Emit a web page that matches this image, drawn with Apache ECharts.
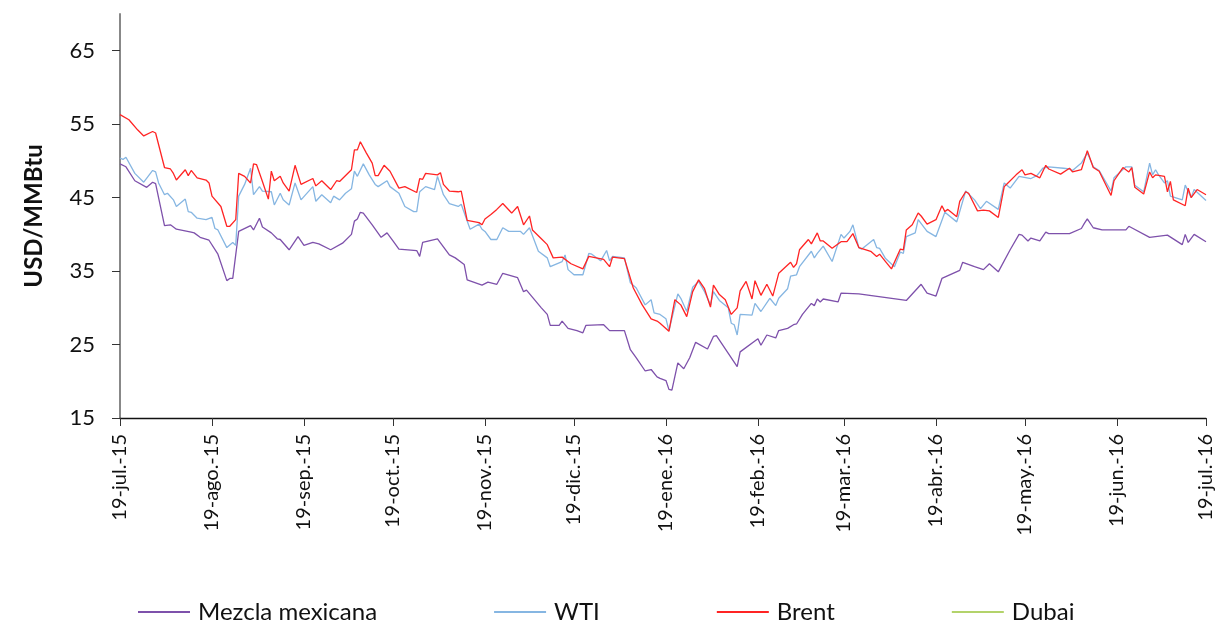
<!DOCTYPE html>
<html lang="es">
<head>
<meta charset="UTF-8">
<title>Precios del crudo</title>
<script src="https://cdn.jsdelivr.net/npm/echarts@6/dist/echarts.min.js"></script>
<style>
  html, body { margin: 0; padding: 0; background: #fff; }
  #chart { width: 1220px; height: 621px; }
</style>
</head>
<body>
<div id="chart"></div>
<script>
// x = dias desde 19-jul-2015, y = USD/MMBtu
var tickDays = [0, 31, 62, 92, 123, 153, 184, 215, 244, 275, 305, 336, 366];
var tickLabels = ['19-jul.-15', '19-ago.-15', '19-sep.-15', '19-oct.-15', '19-nov.-15', '19-dic.-15',
  '19-ene.-16', '19-feb.-16', '19-mar.-16', '19-abr.-16', '19-may.-16', '19-jun.-16', '19-jul.-16'];
var yTicks = [15, 25, 35, 45, 55, 65];
var seriesNames = ['Mezcla mexicana', 'WTI', 'Brent', 'Dubai'];

var mezcla = [[0,49.6],[2,49.2],[5,47.3],[9,46.4],[11,47.1],[12,46.9],[15,41.2],[17,41.3],[19,40.7],[24,40.3],
  [25,40.2],[27,39.6],[30,39.2],[33,37.3],[36,33.7],[37,34.0],[38,34.0],[40,40.4],[44,41.2],[45,40.6],[47,42.2],
  [48,41.0],[51,40.2],[53,39.4],[54,39.3],[57,37.9],[60,39.7],[62,38.5],[65,38.9],[67,38.7],[71,37.9],[75,38.8],
  [78,40.0],[79,41.8],[80,42.1],[81,43.0],[82,42.9],[85,41.3],[88,39.6],[90,40.2],[92,39.1],[94,38.0],[100,37.8],
  [101,37.0],[102,38.9],[107,39.4],[111,37.2],[113,36.8],[116,35.9],[117,33.8],[122,33.1],[124,33.5],[127,33.2],
  [129,34.7],[134,34.1],[136,32.2],[137,32.4],[142,30.0],[144,29.1],[145,27.6],[148,27.6],[149,28.2],[151,27.2],
  [154,26.9],[156,26.6],[157,27.6],[163,27.7],[165,26.9],[170,26.9],[172,24.3],[174,23.2],[177,21.4],[179,21.6],
  [181,20.6],[182,20.4],[184,20.1],[185,18.9],[186,18.8],[188,22.5],[190,21.7],[192,23.2],[194,25.3],[198,24.4],
  [200,26.1],[201,26.2],[208,22.0],[209,24.0],[215,25.8],[216,24.9],[218,26.3],[221,25.9],[222,26.9],[225,27.2],
  [227,27.7],[228,27.8],[230,29.1],[233,30.6],[234,30.3],[235,31.2],[236,30.8],[237,31.2],[242,30.8],[243,32.0],
  [249,31.9],[265,31.0],[270,33.2],[272,32.0],[275,31.6],[277,34.0],[283,35.1],[284,36.2],[288,35.6],[291,35.2],
  [293,36.0],[296,34.9],[300,37.9],[303,40.0],[304,39.9],[306,39.1],[307,39.5],[310,39.1],[312,40.3],[313,40.1],
  [318,40.1],[320,40.1],[324,40.8],[325,41.5],[326,42.1],[328,40.9],[331,40.6],[339,40.6],[340,41.1],[347,39.6],
  [353,39.9],[358,38.6],[359,40.0],[360,38.9],[362,40.0],[366,39.0]];

var wti = [[0,50.4],[1,50.2],[2,50.5],[5,48.3],[8,47.1],[11,48.7],[12,48.5],[13,47.0],[15,45.4],[16,45.6],
  [18,44.7],[19,43.8],[22,44.8],[23,43.1],[24,43.0],[26,42.2],[29,42.0],[31,42.3],[32,40.8],[33,40.6],[36,38.2],
  [38,38.9],[39,38.5],[40,45.2],[42,46.8],[44,49.0],[45,45.4],[47,46.5],[48,45.9],[51,45.8],[52,44.0],[54,45.6],
  [55,44.7],[57,44.0],[59,47.0],[61,44.7],[65,46.5],[66,44.5],[68,45.4],[71,44.3],[72,45.2],[74,44.7],[76,45.6],
  [78,46.2],[79,48.6],[80,47.9],[82,49.6],[84,48.1],[86,46.8],[87,46.5],[90,47.3],[91,46.5],[94,45.6],[96,43.8],
  [99,43.1],[100,43.1],[101,45.8],[103,46.5],[106,46.1],[107,47.9],[109,45.4],[111,44.2],[114,43.8],[115,44.1],
  [118,40.7],[121,41.4],[122,40.7],[123,40.4],[125,39.3],[127,39.3],[129,40.9],[131,40.4],[135,40.4],[136,40.0],
  [138,40.9],[141,37.7],[144,36.8],[145,35.6],[149,36.3],[150,37.2],[151,35.2],[153,34.5],[156,34.5],[158,37.4],
  [159,37.3],[162,36.4],[164,37.8],[165,36.4],[166,37.0],[170,36.8],[172,33.4],[174,32.7],[177,30.4],[179,31.1],
  [180,29.3],[182,29.1],[184,28.5],[185,26.9],[188,31.9],[189,31.3],[191,29.5],[193,32.8],[195,33.6],[197,32.2],
  [199,30.4],[200,32.2],[202,31.0],[205,30.0],[206,27.9],[207,27.7],[208,26.3],[209,29.1],[213,29.0],[214,30.6],
  [216,29.5],[219,31.3],[221,30.3],[222,31.3],[225,32.6],[226,34.3],[228,34.5],[229,35.6],[233,37.7],[234,36.8],
  [235,37.4],[237,38.4],[240,36.3],[243,40.0],[244,39.5],[246,40.4],[247,41.3],[249,38.2],[250,38.0],[254,39.3],
  [255,38.2],[256,38.1],[258,36.7],[261,35.6],[263,37.6],[264,37.4],[265,39.7],[268,40.2],[269,42.0],[272,40.4],
  [275,39.7],[278,43.0],[282,41.7],[285,45.9],[288,44.7],[290,43.5],[292,44.5],[296,43.4],[298,47.0],[300,46.3],
  [303,47.9],[307,47.6],[309,48.0],[311,49.0],[313,49.2],[318,49.0],[320,48.9],[321,48.7],[324,49.7],[326,51.1],
  [328,49.2],[330,48.7],[334,45.9],[335,47.7],[339,49.2],[341,49.2],[342,46.7],[345,45.8],[347,49.7],[348,48.1],
  [349,48.8],[350,48.1],[352,47.0],[353,47.3],[354,45.2],[358,44.7],[359,46.7],[361,45.0],[362,46.1],[366,44.6]];

var brent = [[0,56.3],[3,55.6],[6,54.2],[8,53.4],[11,54.0],[12,53.8],[15,49.1],[17,48.9],[18,48.3],[19,47.4],
  [22,48.8],[23,48.0],[24,48.7],[26,47.7],[29,47.4],[30,47.0],[31,45.2],[34,43.8],[36,41.1],[37,41.1],[39,42.0],
  [40,48.3],[42,47.9],[44,47.0],[45,49.6],[46,49.5],[48,47.2],[50,44.8],[51,48.6],[52,47.3],[54,47.9],[55,47.0],
  [57,45.9],[59,49.4],[61,46.8],[65,47.6],[66,46.6],[68,47.3],[71,46.1],[73,47.3],[74,47.2],[78,48.8],[79,51.5],
  [80,51.5],[81,52.6],[83,51.1],[85,49.7],[86,48.0],[87,48.0],[89,49.4],[91,48.6],[94,46.3],[96,46.5],[100,45.7],
  [101,47.6],[102,47.5],[103,48.3],[107,48.1],[108,48.4],[109,46.8],[111,45.9],[114,45.8],[115,45.9],[117,41.9],
  [121,41.6],[122,41.3],[123,42.1],[125,42.7],[127,43.4],[129,44.2],[132,42.9],[134,43.8],[136,41.3],[138,42.5],
  [139,40.6],[142,39.4],[144,38.6],[146,36.8],[149,36.9],[152,36.0],[156,35.3],[158,37.0],[163,36.6],[165,35.6],
  [166,36.9],[170,36.7],[173,32.7],[176,30.4],[179,28.5],[181,28.2],[182,27.9],[185,26.8],[187,31.1],[189,30.4],
  [191,28.8],[193,32.2],[195,33.8],[197,32.6],[199,30.1],[200,33.1],[202,31.8],[204,31.1],[206,29.1],[208,30.0],
  [209,32.3],[211,33.6],[213,31.2],[214,33.7],[216,31.7],[218,33.2],[220,31.6],[222,34.7],[226,36.2],[227,35.5],
  [228,36.0],[229,37.9],[232,39.3],[233,38.7],[235,40.2],[236,39.1],[237,39.1],[240,38.1],[243,39.0],[245,39.0],
  [247,40.1],[249,38.2],[253,37.7],[255,37.0],[256,37.3],[258,36.3],[260,35.3],[263,38.0],[264,37.9],[265,40.6],
  [267,41.3],[269,42.9],[270,42.5],[272,41.4],[275,42.0],[277,43.9],[278,43.1],[279,43.4],[282,42.4],[283,44.5],
  [285,45.8],[286,45.6],[289,43.2],[291,43.3],[293,43.2],[296,42.3],[298,46.5],[299,46.9],[302,48.1],[304,48.8],
  [305,48.1],[307,48.3],[310,47.7],[312,49.4],[313,48.9],[317,48.2],[320,49.0],[321,48.5],[324,48.8],[326,51.4],
  [328,49.1],[330,48.6],[334,45.3],[335,47.3],[338,49.1],[340,48.5],[341,49.1],[342,46.4],[345,45.5],[347,48.5],
  [348,47.7],[349,48.1],[352,47.9],[353,45.8],[354,47.2],[355,44.7],[359,43.9],[360,46.3],[361,45.0],[363,46.1],
  [366,45.4]];

var dubai = [];

var colors = ['#7e51ab', '#86b6e2', '#ff2424', '#b3d36b'];
var font = 'Lato, "Open Sans", sans-serif';

var myChart = echarts.init(document.getElementById('chart'));

function lineSeries(name, data, i) {
  return {
    name: name,
    type: 'line',
    data: data,
    showSymbol: false,
    symbol: 'none',
    animation: false,
    lineStyle: { color: colors[i], width: 1.3 },
    itemStyle: { color: colors[i] }
  };
}

var option = {
  animation: false,
  grid: { left: 120, right: 14, top: 14, bottom: 203, outerBoundsMode: 'none' },
  legend: {
    data: seriesNames,
    left: 133,
    top: 595,
    icon: 'rect',
    itemWidth: 52,
    itemHeight: 2,
    itemGap: 117,
    textStyle: { fontFamily: font, fontSize: 24, color: '#111', padding: [0, 0, 0, 3] }
  },
  xAxis: {
    type: 'value',
    min: 0,
    max: 366,
    splitLine: { show: false },
    axisLine: { lineStyle: { color: '#111', width: 1.3 } },
    axisTick: { show: true, length: 8, customValues: tickDays, lineStyle: { color: '#333' } },
    axisLabel: {
      customValues: tickDays,
      rotate: 90,
      margin: 16,
      fontFamily: font,
      fontSize: 20,
      color: '#111',
      formatter: function (v) {
        var k = tickDays.indexOf(Math.round(v));
        return k >= 0 ? tickLabels[k] : '';
      }
    }
  },
  yAxis: {
    type: 'value',
    min: 15,
    max: 70,
    interval: 10,
    name: 'USD/MMBtu',
    nameLocation: 'middle',
    nameGap: 74,
    nameTextStyle: { fontFamily: font, fontSize: 24, fontWeight: 'bold', color: '#111' },
    splitLine: { show: false },
    axisLine: { show: true, lineStyle: { color: '#888', width: 2 } },
    axisTick: { show: true, length: 8, customValues: yTicks, lineStyle: { color: '#333' } },
    axisLabel: {
      customValues: yTicks,
      margin: 25,
      fontFamily: font,
      fontSize: 22,
      color: '#111'
    }
  },
  series: [
    lineSeries(seriesNames[0], mezcla, 0),
    lineSeries(seriesNames[1], wti, 1),
    lineSeries(seriesNames[2], brent, 2),
    lineSeries(seriesNames[3], dubai, 3)
  ]
};

myChart.setOption(option);
</script>
</body>
</html>
